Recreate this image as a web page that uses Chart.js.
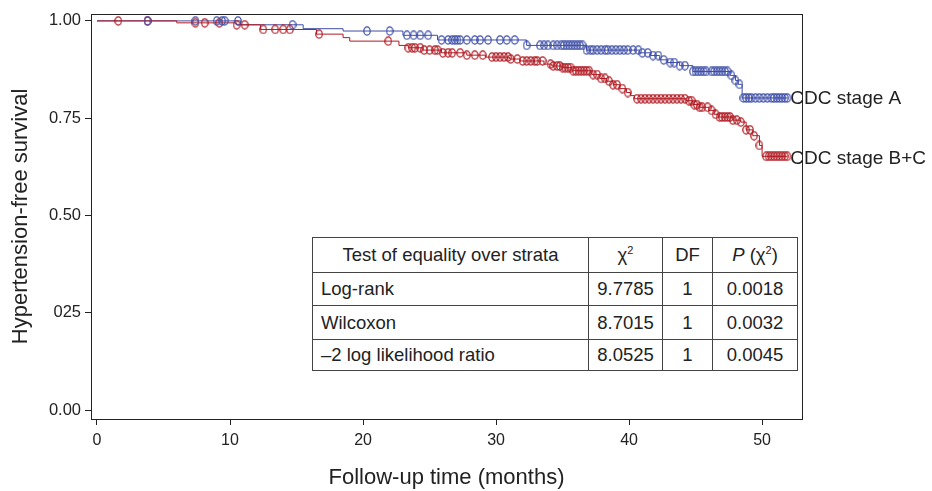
<!DOCTYPE html>
<html>
<head>
<meta charset="utf-8">
<script src="https://cdn.jsdelivr.net/npm/chart.js@4.4.0/dist/chart.umd.min.js"></script>
<style>
  html, body { margin: 0; padding: 0; background: #fff; }
  #wrap { position: relative; width: 932px; height: 491px; }
  #kmTable {
    position: absolute; left: 312px; top: 237px;
    border-collapse: collapse; background: #fff;
    font-family: "Liberation Sans", Arial, sans-serif; font-size: 18.5px; color: #222;
  }
  #kmTable td { border: 1px solid #444; padding: 0; text-align: center; }
  #kmTable td.lbl { text-align: left; padding-left: 8px; }
  #kmTable sup { font-size: 11px; }
</style>
</head>
<body>
<div id="wrap">
  <canvas id="kmChart" width="932" height="491"></canvas>
  <table id="kmTable">
    <tr style="height:35px">
      <td style="width:275px">Test of equality over strata</td>
      <td style="width:73px">&chi;<sup>2</sup></td>
      <td style="width:49px">DF</td>
      <td style="width:84px"><i>P</i> (&chi;<sup>2</sup>)</td>
    </tr>
    <tr style="height:33px"><td class="lbl">Log-rank</td><td>9.7785</td><td>1</td><td>0.0018</td></tr>
    <tr style="height:34px"><td class="lbl">Wilcoxon</td><td>8.7015</td><td>1</td><td>0.0032</td></tr>
    <tr style="height:31px"><td class="lbl">&ndash;2 log likelihood ratio</td><td>8.0525</td><td>1</td><td>0.0045</td></tr>
  </table>
</div>
<script>
// Step points of the two Kaplan-Meier curves (months, survival)
const stageATimes = [0, 10.8, 15.5, 18.5, 23.0, 25.6, 32.3, 36.8, 40.8, 41.6, 42.3, 42.9, 43.8, 44.8, 47.6, 48.0, 48.2, 48.5, 51.9];
const stageASurv  = [1.0, 0.990, 0.980, 0.974, 0.963, 0.951, 0.937, 0.925, 0.918, 0.911, 0.900, 0.893, 0.885, 0.870, 0.860, 0.847, 0.837, 0.802, 0.802];

const stageBCTimes = [0, 6.0, 10.5, 12.3, 16.5, 18.5, 19.0, 22.7, 23.4, 24.5, 25.9, 27.8, 29.2, 31.0, 31.8, 33.6, 34.2, 35.0, 35.7, 37.2, 37.8, 38.3, 38.8, 39.3, 39.8, 40.1, 40.4, 44.3, 44.8, 45.3, 46.0, 46.4, 46.7, 47.8, 48.4, 48.8, 49.3, 49.8, 50.0, 51.9];
const stageBCSurv  = [1.0, 0.995, 0.990, 0.978, 0.966, 0.957, 0.948, 0.937, 0.931, 0.925, 0.918, 0.912, 0.907, 0.902, 0.897, 0.889, 0.884, 0.880, 0.872, 0.862, 0.852, 0.845, 0.836, 0.826, 0.816, 0.808, 0.800, 0.795, 0.785, 0.778, 0.770, 0.760, 0.753, 0.745, 0.740, 0.720, 0.705, 0.680, 0.652, 0.652];

// Censoring times (circles)
const stageACensor = [3.8, 7.4, 9.0, 9.4, 9.6, 10.6, 14.7, 20.3, 22.0, 23.3, 23.8, 24.3, 24.9, 25.9, 26.4, 26.7, 26.9, 27.1, 27.3, 27.8, 28.4, 28.8, 29.4, 30.3, 30.8, 31.4, 32.3, 33.3, 33.6, 33.9, 34.3, 34.6, 34.9, 35.1, 35.3, 35.5, 35.7, 35.9, 36.1, 36.3, 36.5, 36.8, 37.1, 37.3, 37.6, 37.9, 38.2, 38.4, 38.7, 39.0, 39.3, 39.6, 39.9, 40.3, 40.7, 41.0, 41.4, 41.8, 42.2, 42.6, 43.1, 43.4, 43.8, 44.2, 44.8, 45.0, 45.2, 45.4, 45.6, 45.8, 46.2, 46.4, 46.6, 46.8, 47.0, 47.2, 47.4, 47.7, 48.0, 48.3, 48.6, 48.8, 49.0, 49.2, 49.5, 49.8, 50.1, 50.4, 50.7, 50.9, 51.1, 51.3, 51.5, 51.7, 51.9];
const stageBCCensor = [1.6, 3.8, 7.4, 8.1, 9.2, 10.5, 11.1, 12.5, 13.4, 14.0, 14.5, 16.7, 21.9, 23.4, 23.7, 23.9, 24.3, 24.6, 25.0, 25.4, 25.6, 26.0, 26.4, 26.7, 27.3, 27.8, 28.4, 29.0, 29.7, 30.0, 30.3, 30.6, 30.9, 31.1, 31.6, 32.0, 32.3, 32.6, 32.9, 33.1, 33.5, 34.1, 34.3, 34.6, 34.8, 35.0, 35.2, 35.4, 35.6, 35.8, 36.0, 36.2, 36.4, 36.6, 36.8, 37.0, 37.3, 37.6, 37.9, 38.2, 38.5, 38.8, 39.1, 39.5, 39.9, 40.6, 40.9, 41.2, 41.5, 41.8, 42.1, 42.4, 42.7, 43.0, 43.3, 43.6, 43.9, 44.2, 44.5, 44.7, 44.9, 45.1, 45.3, 45.5, 45.9, 46.2, 46.5, 46.8, 47.0, 47.2, 47.4, 47.6, 47.8, 48.1, 48.4, 48.8, 49.1, 49.4, 49.8, 50.3, 50.5, 50.7, 50.9, 51.1, 51.3, 51.5, 51.7, 51.9];

const seriesNames = ["CDC stage A", "CDC stage B+C"];
const xTicks = [0, 10, 20, 30, 40, 50];
const yTicks = [0, 0.25, 0.5, 0.75, 1.0];
const yTickLabels = ["0.00", "025", "0.50", "0.75", "1.00"];

const BLUE = "rgb(62, 78, 168)";
const RED = "rgb(176, 26, 34)";

//KM value at time t
function survAt(times, surv, t){
  let v = surv[0];
  for(let i = 0; i < times.length; i++){
    if(times[i] <= t) v = surv[i];
  }
  return v;
}

//Open oval used as censor mark
function makeOval(color){
  const c = document.createElement("canvas");
  c.width = 8; c.height = 10;
  const g = c.getContext("2d");
  g.strokeStyle = color;
  g.lineWidth = 1.25;
  g.beginPath();
  g.ellipse(4, 5, 3.2, 4.2, 0, 0, Math.PI * 2);
  g.stroke();
  return c;
}

const toXY = (xs, ys) => xs.map((x, i) => ({x: x, y: ys[i]}));
const censorXY = (cs, xs, ys) => cs.map(t => ({x: t, y: survAt(xs, ys, t)}));

//Frame round the plot + end labels
const framePlugin = {
  id: "frame",
  afterDraw(chart){
    const {ctx, chartArea: a, scales} = chart;
    ctx.save();
    ctx.strokeStyle = "#222";
    ctx.lineWidth = 1;
    ctx.strokeRect(Math.round(a.left) + 0.5, Math.round(a.top) + 0.5, Math.round(a.right - a.left), Math.round(a.bottom - a.top));
    ctx.fillStyle = "#222";
    ctx.font = "19px 'Liberation Sans', Arial, sans-serif";
    ctx.textBaseline = "middle";
    const ends = [[stageATimes, stageASurv, 1], [stageBCTimes, stageBCSurv, 2]];
    ends.forEach((e, i) => {
      const n = e[0].length - 1;
      const px = scales.x.getPixelForValue(e[0][n]) + 3;
      const py = scales.y.getPixelForValue(e[1][n]) + e[2];
      ctx.fillText(seriesNames[i], px, py);
    });
    ctx.restore();
  }
};

new Chart(document.getElementById("kmChart"), {
  type: "line",
  data: {
    datasets: [
      {label: seriesNames[0], data: toXY(stageATimes, stageASurv), stepped: true, borderColor: BLUE, borderWidth: 1, pointRadius: 0, order: 2},
      {label: seriesNames[1], data: toXY(stageBCTimes, stageBCSurv), stepped: true, borderColor: RED, borderWidth: 1, pointRadius: 0, order: 1},
      {label: "A censored", data: censorXY(stageACensor, stageATimes, stageASurv), showLine: false, pointStyle: makeOval(BLUE), pointRadius: 4, order: 0},
      {label: "B+C censored", data: censorXY(stageBCCensor, stageBCTimes, stageBCSurv), showLine: false, pointStyle: makeOval(RED), pointRadius: 4, order: 0}
    ]
  },
  options: {
    responsive: false,
    animation: false,
    layout: {padding: {top: 11, right: 130, bottom: 0, left: 0}},
    plugins: {legend: {display: false}, tooltip: {enabled: false}},
    scales: {
      x: {
        type: "linear", min: -0.45, max: 53.0,
        afterBuildTicks: s => { s.ticks = xTicks.map(v => ({value: v})); },
        afterFit: s => { s.height = 72; },
        border: {display: false},
        grid: {drawOnChartArea: false, drawTicks: true, tickLength: 6, color: "#222"},
        ticks: {color: "#222", padding: 6, maxRotation: 0, font: {family: "'Liberation Sans', Arial, sans-serif", size: 16}},
        title: {display: true, text: "Follow-up time (months)", color: "#222", padding: {top: 0, bottom: 0}, font: {family: "'Liberation Sans', Arial, sans-serif", size: 22}}
      },
      y: {
        min: -0.023, max: 1.018,
        afterBuildTicks: s => { s.ticks = yTicks.map(v => ({value: v})); },
        afterFit: s => { s.width = 91; },
        border: {display: false},
        grid: {drawOnChartArea: false, drawTicks: true, tickLength: 6, color: "#222"},
        ticks: {color: "#222", padding: 4, font: {family: "'Liberation Sans', Arial, sans-serif", size: 16.5},
          callback: (v) => yTickLabels[yTicks.indexOf(v)]},
        title: {display: true, text: "Hypertension-free survival", color: "#222", padding: {top: 8, bottom: 0}, font: {family: "'Liberation Sans', Arial, sans-serif", size: 22}}
      }
    }
  },
  plugins: [framePlugin]
});
</script>
</body>
</html>
